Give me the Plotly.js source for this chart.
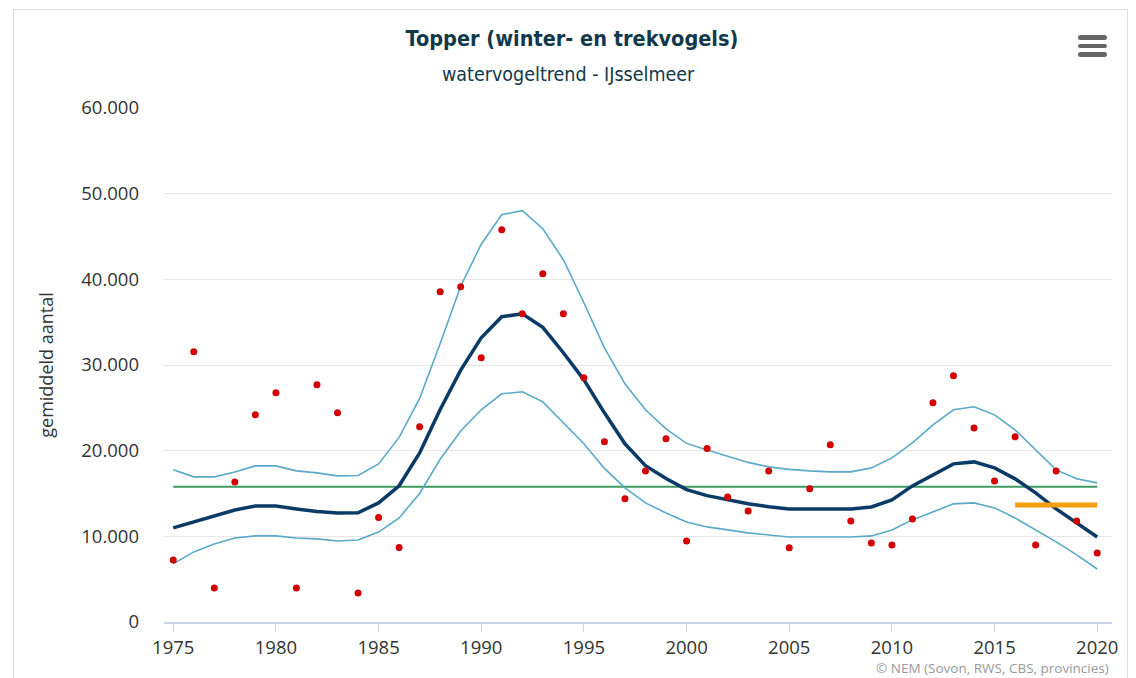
<!DOCTYPE html>
<html>
<head>
<meta charset="utf-8">
<script src="https://cdn.plot.ly/plotly-3.0.1.min.js"></script>
<style>
  html, body { margin: 0; padding: 0; background: #ffffff; }
  #frame { position: absolute; left: 13px; top: 9px; width: 1115px; height: 720px; border: 1.5px solid #dcdcdc; box-sizing: border-box; }
  #chart { position: absolute; left: 0; top: 0; width: 1136px; height: 678px; }
  .bar { position: absolute; left: 1078px; width: 29px; height: 4.5px; border-radius: 3px; background: #666666; }
</style>
</head>
<body>
<div id="frame"></div>
<div id="chart"></div>
<div class="bar" style="top:35px"></div>
<div class="bar" style="top:43.5px"></div>
<div class="bar" style="top:52px"></div>
<script>
// ---- data ----
const years = [1975,1976,1977,1978,1979,1980,1981,1982,1983,1984,1985,1986,1987,1988,1989,1990,
  1991,1992,1993,1994,1995,1996,1997,1998,1999,2000,2001,2002,2003,2004,2005,2006,2007,2008,2009,2010,
  2011,2012,2013,2014,2015,2016,2017,2018,2019,2020];

const counts = [7240,31540,3970,16350,24180,26750,3970,27690,24420,3390,12200,8700,22780,38550,39130,30840,
  45790,35980,40650,35980,28500,21030,14400,17640,21380,9460,20250,14600,12970,17640,8680,15540,20680,11800,9230,9000,
  12030,25580,28740,22660,16470,21610,9000,17640,11800,8060];

const trend = [10980,11700,12380,13080,13550,13550,13200,12900,12730,12750,13900,15900,19740,24800,29400,33180,
  35630,35980,34400,31430,28270,24420,20800,18250,16750,15450,14750,14250,13800,13450,13200,13200,13200,13200,13430,14250,
  15890,17170,18460,18690,17990,16710,15070,13200,11570,9930];

const upper = [17760,16940,16940,17520,18220,18220,17640,17410,17060,17100,18450,21550,26100,32500,39200,44100,
  47550,48010,45910,42290,37270,32010,27800,24770,22550,20850,20090,19330,18630,18110,17820,17640,17520,17520,17990,19160,
  20910,23010,24770,25120,24180,22430,20090,17760,16710,16240];

const lower = [6780,8180,9110,9810,10050,10050,9810,9700,9460,9580,10500,12150,15000,19000,22300,24770,
  26640,26870,25700,23200,20800,17930,15650,13900,12730,11680,11100,10750,10400,10160,9930,9930,9930,9930,10050,10750,
  11920,12850,13790,13900,13320,12150,10750,9350,7830,6190];

const meanYears = [1975, 2020];
const meanLevel = [15800, 15800];
const recentYears = [2016, 2020];
const recentLevel = [13670, 13670];

const xTicks = [1975,1980,1985,1990,1995,2000,2005,2010,2015,2020];
const yTicks = [0,10000,20000,30000,40000,50000,60000];

const titleText = 'Topper (winter- en trekvogels)';
const subtitleText = 'watervogeltrend - IJsselmeer';
const yTitle = 'gemiddeld aantal';
const creditText = '© NEM (Sovon, RWS, CBS, provincies)';

// ---- traces ----
const traces = [
  { x: meanYears, y: meanLevel, mode: 'lines', line: { color: '#3f9a62', width: 2 }, hoverinfo: 'skip', showlegend: false },
  { x: years, y: upper, mode: 'lines', line: { color: '#5aa9c9', width: 1.6 }, showlegend: false },
  { x: years, y: lower, mode: 'lines', line: { color: '#5aa9c9', width: 1.6 }, showlegend: false },
  { x: years, y: trend, mode: 'lines', line: { color: '#0a3a66', width: 3.5 }, showlegend: false },
  { x: recentYears, y: recentLevel, mode: 'lines', line: { color: '#f5a010', width: 5 }, showlegend: false },
  { x: years, y: counts, mode: 'markers', marker: { color: '#d20000', size: 7 }, showlegend: false }
];

const tickFont = { family: '"Open Sans", "Noto Sans", sans-serif', size: 18.5, color: '#333333' };
const titleFamily = '"Liberation Sans Narrow", "DejaVu Sans Condensed", "Open Sans", sans-serif';

const layout = {
  width: 1136, height: 678,
  margin: { l: 164, r: 24, t: 108, b: 56 },
  paper_bgcolor: 'rgba(0,0,0,0)',
  plot_bgcolor: 'rgba(0,0,0,0)',
  separators: ',.',
  title: {
    text: '<b>' + titleText + '</b>',
    x: 0.5035, xref: 'container', xanchor: 'center',
    y: 1 - 38/678, yref: 'container', yanchor: 'middle',
    font: { family: titleFamily, size: 21.5, color: '#12394a' }
  },
  xaxis: {
    range: [1974.55, 2020.72],
    tickvals: xTicks, tickformat: 'd',
    showgrid: false, zeroline: false,
    showline: true, linecolor: '#ccd6eb', linewidth: 1.5,
    ticks: 'outside', ticklen: 8, tickwidth: 1, tickcolor: '#ccd6eb',
    tickfont: tickFont, fixedrange: true
  },
  yaxis: {
    range: [0, 60000],
    tickvals: yTicks, tickformat: ',d',
    showgrid: true, gridcolor: '#e6e6e6', gridwidth: 1,
    zeroline: false, showline: false,
    ticks: '', ticklabelstandoff: 24,
    tickfont: tickFont, fixedrange: true,
    title: { text: yTitle, font: { family: '"Open Sans", sans-serif', size: 18, color: '#333333' }, standoff: 22 }
  },
  annotations: [
    { text: subtitleText, xref: 'paper', yref: 'paper', x: 0.4262, y: 1.0661, xanchor: 'center', yanchor: 'middle',
      showarrow: false, font: { family: titleFamily, size: 19.5, color: '#12394a' } },
    { text: creditText, xref: 'paper', yref: 'paper', x: 0.999, y: -0.0895, xanchor: 'right', yanchor: 'middle',
      showarrow: false, font: { family: '"Open Sans", sans-serif', size: 13.5, color: '#999999' } }
  ],
  showlegend: false,
  hovermode: 'closest'
};

Plotly.newPlot('chart', traces, layout, { displayModeBar: false, staticPlot: false });
</script>
</body>
</html>
